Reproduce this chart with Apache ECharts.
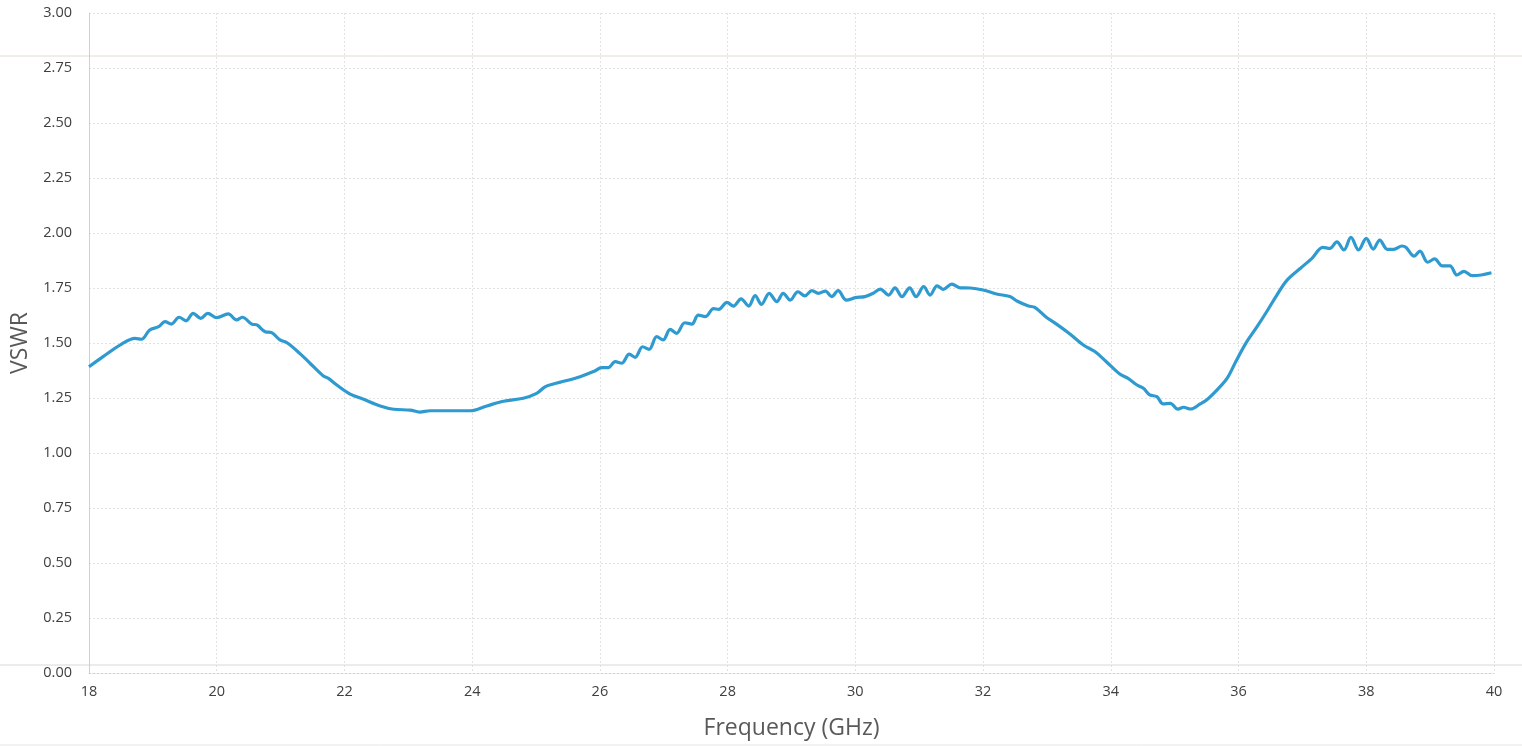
<!DOCTYPE html>
<html>
<head>
<meta charset="utf-8">
<script src="https://cdn.jsdelivr.net/npm/echarts@6/dist/echarts.min.js"></script>
<style>
html,body{margin:0;padding:0;background:#fff;}
#c{width:1522px;height:746px;}
</style>
</head>
<body>
<div id="c"></div>
<script>
const xTicks = [18,20,22,24,26,28,30,32,34,36,38,40];
const yTicks = [0,0.25,0.5,0.75,1,1.25,1.5,1.75,2,2.25,2.5,2.75,3];
const freq = [
18.00,18.22,18.51,18.72,18.82,18.95,19.09,19.19,19.29,19.41,19.52,19.63,19.75,19.86,20.00,20.18,20.31,20.40,20.55,20.63,20.76,20.86,20.99,21.10,21.30,21.46,21.67,21.75,21.88,22.09,22.30,22.56,22.77,23.03,23.18,23.34,23.60,23.97,24.23,24.49,24.80,25.01,25.14,25.27,25.45,25.69,
25.90,26.03,26.13,26.24,26.34,26.46,26.55,26.67,26.77,26.89,26.99,27.10,27.20,27.33,27.44,27.54,27.65,27.78,27.86,27.99,28.09,28.21,28.33,28.43,28.53,28.65,28.77,28.87,28.98,29.10,29.21,29.32,29.42,29.53,29.63,29.73,29.86,30.00,30.15,30.28,30.39,30.52,30.62,30.73,30.85,30.95,31.07,31.17,31.28,31.38,31.51,31.64,31.80,32.00,32.21,32.42,32.53,32.71,32.81,32.99,
33.15,33.36,33.57,33.75,33.93,34.14,34.27,34.41,34.51,34.61,34.72,34.82,34.93,35.05,35.14,35.25,35.40,35.50,35.66,35.82,35.97,36.13,36.29,36.44,36.60,36.76,36.97,37.15,37.32,37.43,37.54,37.65,37.76,37.88,38.00,38.11,38.21,38.33,38.43,38.56,38.62,38.75,38.84,38.96,39.07,39.19,39.31,39.42,39.53,39.66,39.80,39.96
];
const vswr = [
1.392,1.438,1.495,1.521,1.517,1.559,1.574,1.597,1.586,1.617,1.601,1.635,1.612,1.635,1.615,1.632,1.605,1.617,1.586,1.582,1.551,1.547,1.514,1.501,1.453,1.408,1.350,1.339,1.309,1.268,1.244,1.214,1.199,1.195,1.186,1.192,1.192,1.192,1.214,1.235,1.249,1.271,1.301,1.314,1.327,1.347,
1.370,1.388,1.388,1.415,1.408,1.449,1.435,1.483,1.471,1.529,1.514,1.562,1.544,1.592,1.586,1.627,1.620,1.656,1.653,1.685,1.668,1.701,1.668,1.715,1.676,1.726,1.688,1.726,1.695,1.733,1.714,1.738,1.726,1.736,1.711,1.738,1.695,1.706,1.711,1.726,1.745,1.718,1.751,1.711,1.751,1.711,1.756,1.718,1.760,1.744,1.768,1.751,1.750,1.741,1.723,1.711,1.691,1.668,1.662,1.617,
1.586,1.541,1.491,1.461,1.415,1.359,1.339,1.309,1.294,1.264,1.256,1.223,1.226,1.199,1.208,1.200,1.223,1.241,1.286,1.339,1.423,1.506,1.574,1.642,1.718,1.786,1.840,1.885,1.935,1.930,1.960,1.923,1.980,1.923,1.976,1.927,1.968,1.926,1.926,1.941,1.935,1.895,1.918,1.867,1.882,1.851,1.851,1.809,1.826,1.806,1.809,1.819
];
const data = freq.map((f,i)=>[f,vswr[i]]);
const chart = echarts.init(document.getElementById('c'));
const gridLine = {show:true,lineStyle:{color:'#e2e2e2',width:1,type:[2,2]}};
chart.setOption({
  animation:false,
  backgroundColor:'#ffffff',
  grid:{left:89,right:28,top:13,bottom:73,containLabel:false,outerBoundsMode:'none'},
  xAxis:{
    type:'value',min:xTicks[0],max:xTicks[xTicks.length-1],interval:2,
    name:'Frequency (GHz)',nameLocation:'middle',nameGap:44,
    nameTextStyle:{fontFamily:'Open Sans',fontSize:23,color:'#595959'},
    axisLine:{show:true,lineStyle:{color:'#d0d0d0',type:[2,2]}},
    axisTick:{show:false},
    axisLabel:{fontFamily:'Open Sans',fontSize:14.5,color:'#404040',margin:11},
    splitLine:gridLine
  },
  yAxis:{
    type:'value',min:yTicks[0],max:yTicks[yTicks.length-1],interval:0.25,
    name:'VSWR',nameLocation:'middle',nameGap:54,nameRotate:90,
    nameTextStyle:{fontFamily:'Open Sans',fontSize:23,color:'#595959'},
    axisLine:{show:true,lineStyle:{color:'#d0d0d0'}},
    axisTick:{show:false},
    axisLabel:{fontFamily:'Open Sans',fontSize:14.5,color:'#404040',margin:17,formatter:v=>v.toFixed(2)},
    splitLine:gridLine
  },
  graphic:[
    {type:'line',shape:{x1:0,y1:56,x2:1522,y2:56},style:{stroke:'#e2dccb',lineWidth:1},silent:true},
    {type:'line',shape:{x1:0,y1:665,x2:1522,y2:665},style:{stroke:'#d8d8d8',lineWidth:1},silent:true},
    {type:'line',shape:{x1:0,y1:745,x2:1522,y2:745},style:{stroke:'#e6e6e6',lineWidth:1},silent:true}
  ],
  series:[{
    type:'line',data:data,showSymbol:false,smooth:0.35,
    lineStyle:{color:'#2e9ad0',width:3.2},
    itemStyle:{color:'#2e9ad0'}
  }]
});
</script>
</body>
</html>
